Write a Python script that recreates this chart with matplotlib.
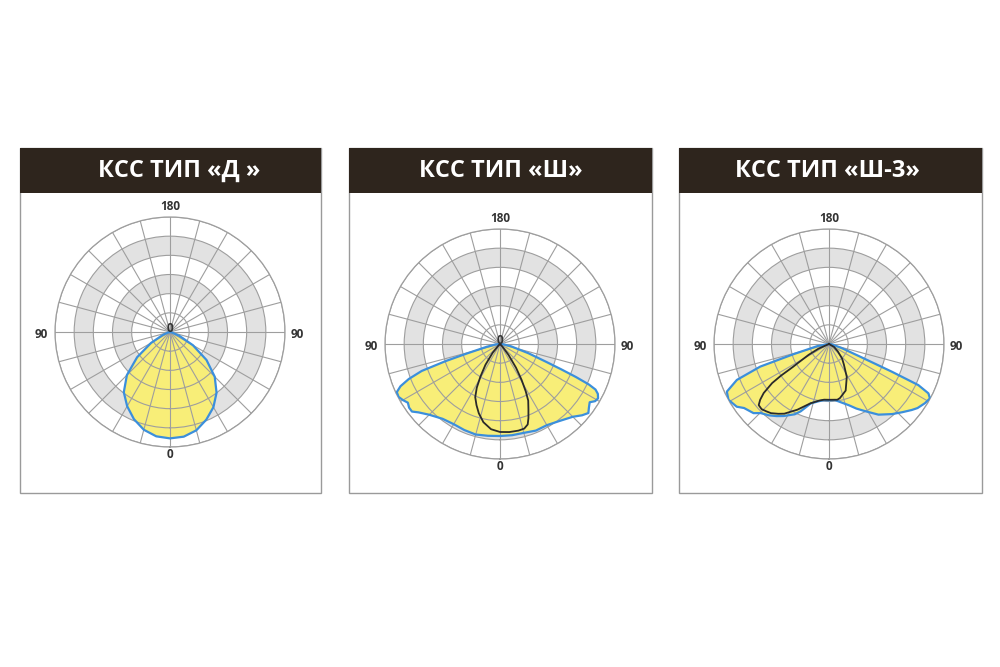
"""
Polar light distribution diagrams (KSS types D, Sh, Sh-3)
"""

import numpy as np
import matplotlib
matplotlib.use('Agg')
import matplotlib.pyplot as plt
from matplotlib.patches import Rectangle

plt.rcParams['font.family'] = ['Open Sans', 'DejaVu Sans']

# Colors
HEADER = '#2e251d'
BORDER = '#9a9a9a'
GRID = '#9e9e9e'
BAND = '#e2e2e2'
YELLOW = '#f8ee78'
BLUE = '#3b8fdc'
DARK = '#2a2a2a'
LABEL = '#333333'

titles = ['КСС ТИП «Д »', 'КСС ТИП «Ш»', 'КСС ТИП «Ш-3»']

# angles in degrees from the downward axis (positive = right), r as fraction of outer ring
d_ang = [-90, -75, -67.5, -60, -52.5, -45, -37.5, -30, -22.5, -15, -7.5, 0,
         7.5, 15, 22.5, 30, 37.5, 45, 52.5, 60, 67.5, 75, 90]
d_r = [0, 0.02, 0.07, 0.19, 0.36, 0.53, 0.66, 0.745, 0.82, 0.88, 0.915, 0.925,
       0.918, 0.885, 0.825, 0.755, 0.665, 0.55, 0.40, 0.23, 0.09, 0.02, 0]

sh_ang = [-90, -84, -78, -74, -72.5, -71, -69, -67, -65, -62.5, -60, -57.5, -55,
          -52.5, -50, -45, -37.5, -30, -22.5, -15, -7.5, 0,
          7.5, 15, 22.5, 30, 37.5, 45, 49, 52, 54.5, 57, 59, 61, 63, 64.5, 65.5,
          66.5, 67.5, 69, 72, 78, 84, 90]
sh_r = [0, 0.04, 0.12, 0.3, 0.5, 0.72, 0.85, 0.94, 0.99, 0.995, 0.975, 0.95, 0.965,
        0.965, 0.925, 0.87, 0.82, 0.805, 0.81, 0.815, 0.805, 0.80,
        0.80, 0.80, 0.815, 0.815, 0.845, 0.895, 0.945, 0.975, 0.95, 0.93, 0.965, 0.975,
        0.955, 0.92, 0.85, 0.72, 0.58, 0.42, 0.26, 0.1, 0.03, 0]

sh_in_ang = [-48, -45, -40, -35, -31, -28, -25, -21, -17, -12, -6, 0,
             6, 12, 16, 19, 21, 23.5, 26.5, 28.5, 31, 34, 38, 43, 48]
sh_in_r = [0, 0.02, 0.10, 0.22, 0.33, 0.43, 0.51, 0.57, 0.63, 0.695, 0.745, 0.765,
           0.77, 0.77, 0.765, 0.74, 0.69, 0.62, 0.55, 0.47, 0.365, 0.25, 0.12, 0.03, 0]

sh3_ang = [-90, -80, -74, -71.8, -68.7, -65, -61, -55.8, -53, -47.5, -44.7, -40, -36,
           -32.2, -26, -22.8, -17, -10, -5, 0, 6, 12, 18, 23, 28, 35, 42, 47, 51.4,
           54.1, 58.3, 61.7, 63.6, 65.3, 66.2, 68, 72, 80, 90]
sh3_r = [0, 0.1, 0.32, 0.63, 0.86, 0.98, 1.0, 0.97, 0.925, 0.89, 0.845, 0.81, 0.775,
         0.74, 0.68, 0.635, 0.54, 0.505, 0.49, 0.49, 0.49, 0.52, 0.56, 0.61, 0.66, 0.75, 0.82, 0.87, 0.92,
         0.95, 0.98, 0.997, 0.965, 0.855, 0.60, 0.28, 0.12, 0.03, 0]

sh3_in_ang = [-70, -66, -62, -58.5, -57.6, -56.6, -55.5, -53.1, -51, -49, -46, -43, -40,
              -36, -32.7, -25.7, -17.3, -10, -5, 0, 8.5, 11.4, 19.7, 28.4, 36, 42, 50, 60, 70]
sh3_in_r = [0, 0.1, 0.2, 0.32, 0.37, 0.5, 0.6, 0.71, 0.77, 0.81, 0.815, 0.80, 0.785,
            0.75, 0.72, 0.634, 0.54, 0.50, 0.486, 0.485, 0.49, 0.48, 0.43, 0.325, 0.22, 0.17, 0.10, 0.05, 0]

# panel layout in pixels
boxes = [(20, 321), (349, 652), (679, 982)]
centers = [(170, 332), (500, 344), (829, 344)]
R = 115
curves = [(d_ang, d_r, None, None),
          (sh_ang, sh_r, sh_in_ang, sh_in_r),
          (sh3_ang, sh3_r, sh3_in_ang, sh3_in_r)]
title_x = [179, 501, 827]
center_zero = [True, True, False]

W, H = 1000, 667
fig = plt.figure(figsize=(10, 6.67), dpi=100)


def fx(x):
    return x / W


def fy(y):
    return 1 - y / H


for i in range(3):
    x0, x1 = boxes[i]
    cx, cy = centers[i]

    # frame + header
    fig.add_artist(Rectangle((fx(x0), fy(493)), (x1 - x0) / W, (493 - 148) / H,
                             transform=fig.transFigure, facecolor='white',
                             edgecolor=BORDER, linewidth=1.0, zorder=0))
    fig.add_artist(Rectangle((fx(x0), fy(193)), (x1 - x0) / W, 45 / H,
                             transform=fig.transFigure, facecolor=HEADER,
                             edgecolor='none', zorder=1))
    fig.text(fx(title_x[i]), fy(171), titles[i], color='white', fontsize=17,
             fontweight='bold', ha='center', va='center')

    ax = fig.add_axes([fx(cx - R), fy(cy + R), 2 * R / W, 2 * R / H], projection='polar')
    ax.set_theta_zero_location('S')
    ax.set_theta_direction(1)
    ax.set_ylim(0, 1)
    ax.set_facecolor('white')

    # gray rings
    for b in [2, 4]:
        ax.bar(0, 1 / 6, width=2 * np.pi, bottom=b / 6, color=BAND,
               edgecolor='none', zorder=0.5)

    ang, r, ang2, r2 = curves[i]
    th = np.deg2rad(ang)
    ax.fill(th, r, color=YELLOW, zorder=1, linewidth=0)
    ax.plot(th, r, color=BLUE, linewidth=1.6, zorder=3, solid_joinstyle='round')
    if ang2 is not None:
        ax.plot(np.deg2rad(ang2), r2, color=DARK, linewidth=1.3, zorder=3,
                solid_joinstyle='round')

    ax.set_thetagrids(np.arange(0, 360, 15), labels=[])
    ax.set_rgrids(np.arange(1, 7) / 6, labels=[])
    ax.set_ylim(0, 1)
    ax.grid(True, color=GRID, linewidth=0.8)
    ax.set_axisbelow(False)
    ax.tick_params(length=0)
    ax.spines['polar'].set_color(GRID)
    ax.spines['polar'].set_linewidth(0.9)

    # angle labels
    fig.text(fx(cx), fy(cy - 125), '180', color=LABEL, fontsize=8.5,
             fontweight='bold', ha='center', va='center')
    fig.text(fx(cx), fy(cy + 123), '0', color=LABEL, fontsize=8.5,
             fontweight='bold', ha='center', va='center')
    fig.text(fx(cx - 129), fy(cy + 2), '90', color=LABEL, fontsize=8.5,
             fontweight='bold', ha='center', va='center')
    fig.text(fx(cx + 127), fy(cy + 2), '90', color=LABEL, fontsize=8.5,
             fontweight='bold', ha='center', va='center')
    if center_zero[i]:
        fig.text(fx(cx), fy(cy - 3), '0', color=LABEL, fontsize=8.5,
                 fontweight='bold', ha='center', va='center', zorder=5)

fig.savefig('out.png', dpi=100, facecolor='white')
